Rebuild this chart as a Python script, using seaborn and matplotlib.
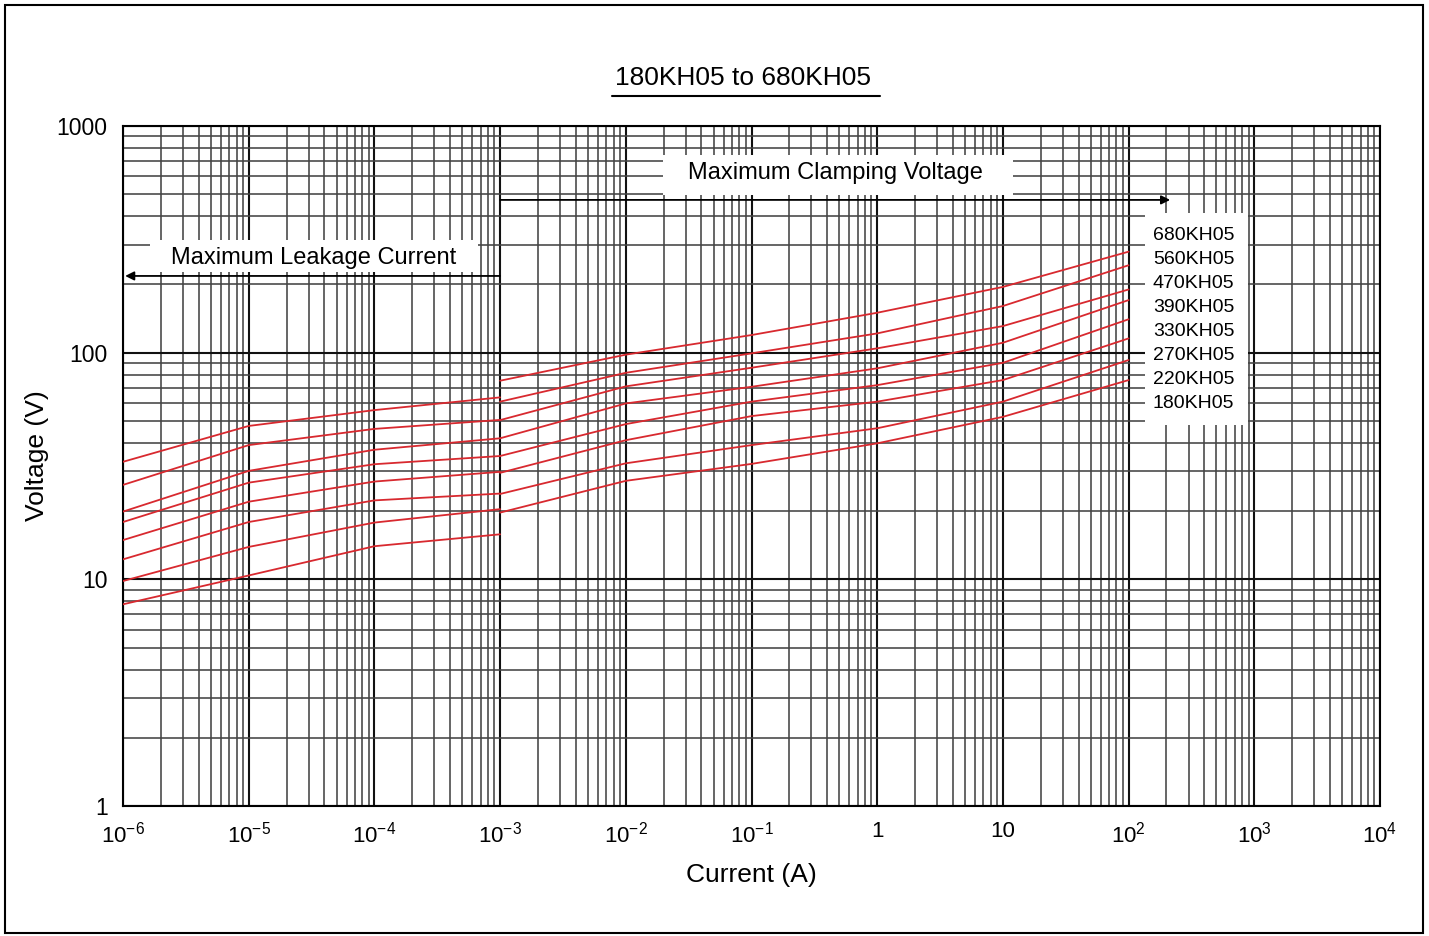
import numpy as np
import pandas as pd
import matplotlib
matplotlib.use("Agg")
import matplotlib.pyplot as plt
import seaborn as sns
from matplotlib.ticker import LogLocator, NullFormatter, FixedLocator, FixedFormatter
from matplotlib.patches import Rectangle
from matplotlib.lines import Line2D

# ---------------- data ----------------
devices = ["680KH05", "560KH05", "470KH05", "390KH05",
           "330KH05", "270KH05", "220KH05", "180KH05"]

leak_current = [1e-6, 1e-5, 1e-4, 1e-3]
clamp_current = [1e-3, 1e-2, 1e-1, 1, 10, 100]

leak_680 = [33.0, 47.5, 55.8, 63.5]
leak_560 = [26.1, 39.1, 46.1, 50.5]
leak_470 = [19.9, 30.1, 37.3, 41.9]
leak_390 = [17.9, 26.7, 32.2, 35.0]
leak_330 = [14.9, 22.0, 27.0, 29.8]
leak_270 = [12.25, 17.9, 22.3, 23.9]
leak_220 = [9.83, 13.9, 17.8, 20.4]
leak_180 = [7.76, 10.4, 14.0, 15.8]

clamp_680 = [75.2, 98.0, 119.6, 150.0, 195.0, 279.0]
clamp_560 = [60.8, 81.5, 99.3, 121.6, 160.6, 243.0]
clamp_470 = [50.4, 71.0, 85.8, 104.5, 131.0, 190.0]
clamp_390 = [41.9, 59.7, 70.7, 85.3, 110.6, 170.6]
clamp_330 = [35.0, 48.4, 60.8, 71.9, 90.2, 140.4]
clamp_270 = [29.5, 41.1, 52.5, 60.8, 75.7, 115.6]
clamp_220 = [23.8, 32.5, 39.1, 46.4, 60.8, 92.8]
clamp_180 = [19.7, 27.2, 32.3, 39.8, 52.1, 75.7]

leak_values = [leak_680, leak_560, leak_470, leak_390,
               leak_330, leak_270, leak_220, leak_180]
clamp_values = [clamp_680, clamp_560, clamp_470, clamp_390,
                clamp_330, clamp_270, clamp_220, clamp_180]

x_tick_values = [1e-6, 1e-5, 1e-4, 1e-3, 1e-2, 1e-1, 1, 10, 1e2, 1e3, 1e4]
x_tick_labels = [r"$\mathregular{10^{-6}}$", r"$\mathregular{10^{-5}}$",
                 r"$\mathregular{10^{-4}}$", r"$\mathregular{10^{-3}}$",
                 r"$\mathregular{10^{-2}}$", r"$\mathregular{10^{-1}}$",
                 "1", "10", r"$\mathregular{10^{2}}$", r"$\mathregular{10^{3}}$",
                 r"$\mathregular{10^{4}}$"]
y_tick_values = [1, 10, 100, 1000]
y_tick_labels = ["1", "10", "100", "1000"]

title_text = "180KH05 to 680KH05"
clamp_text = "Maximum Clamping Voltage"
leak_text = "Maximum Leakage Current"

# arrow extents (data coordinates)
clamp_arrow = ((1e-3, 472), (214, 472))
leak_arrow = ((1e-3, 218), (1.04e-6, 218))

# ---------------- table ----------------
rows = []
for dev, lv, cv in zip(devices, leak_values, clamp_values):
    for i, v in zip(leak_current, lv):
        rows.append((dev, "leakage", i, v))
    for i, v in zip(clamp_current, cv):
        rows.append((dev, "clamping", i, v))
df = pd.DataFrame(rows, columns=["device", "region", "current", "voltage"])

# ---------------- style ----------------
sns.set_style("white")
plt.rcParams["font.family"] = ["Liberation Sans", "DejaVu Sans"]
plt.rcParams["mathtext.fontset"] = "custom"
plt.rcParams["mathtext.rm"] = "Liberation Sans"
plt.rcParams["mathtext.it"] = "Liberation Sans:italic"
plt.rcParams["mathtext.bf"] = "Liberation Sans:bold"
plt.rcParams["text.color"] = "black"
plt.rcParams["axes.labelcolor"] = "black"
plt.rcParams["xtick.color"] = "black"
plt.rcParams["ytick.color"] = "black"
plt.rcParams["xtick.labelcolor"] = "black"
plt.rcParams["ytick.labelcolor"] = "black"

RED = "#d8292f"

fig = plt.figure(figsize=(14.29, 9.36), dpi=100)
ax = fig.add_axes([123 / 1429, 1 - 806 / 936, 1257 / 1429, 680 / 936])
ax.set_xscale("log")
ax.set_yscale("log")

sns.lineplot(data=df, x="current", y="voltage", hue="device", units="region",
             estimator=None, sort=False, legend=False,
             palette={d: RED for d in devices}, linewidth=1.3, ax=ax, zorder=3)

ax.set_xlim(1e-6, 1e4)
ax.set_ylim(1, 1000)

ax.xaxis.set_major_locator(FixedLocator(x_tick_values))
ax.xaxis.set_major_formatter(FixedFormatter(x_tick_labels))
ax.yaxis.set_major_locator(FixedLocator(y_tick_values))
ax.yaxis.set_major_formatter(FixedFormatter(y_tick_labels))
ax.xaxis.set_minor_locator(LogLocator(base=10, subs=np.arange(2, 10), numticks=200))
ax.yaxis.set_minor_locator(LogLocator(base=10, subs=np.arange(2, 10), numticks=200))
ax.xaxis.set_minor_formatter(NullFormatter())
ax.yaxis.set_minor_formatter(NullFormatter())

ax.set_axisbelow(True)
ax.grid(True, which="major", color="#111111", linewidth=1.5)
ax.grid(True, which="minor", color="#444444", linewidth=1.15)
ax.tick_params(which="both", length=0)
ax.tick_params(axis="x", pad=11, labelsize=16, labelcolor="black")
ax.tick_params(axis="y", pad=11, labelsize=16.5, labelcolor="black")
for s in ax.spines.values():
    s.set_color("black")
    s.set_linewidth(1.5)

ax.set_xlabel("Current (A)", fontsize=19, color="black")
ax.xaxis.label.set_verticalalignment("center")
ax.xaxis.set_label_coords(0.5, -0.1015)
ax.set_ylabel("Voltage (V)", fontsize=19, color="black")
ax.yaxis.label.set_verticalalignment("center")
ax.yaxis.set_label_coords(-0.0684, 0.515)

# white label boxes
ax.add_patch(Rectangle((0.4296, 0.8985), 0.2784, 0.0589, transform=ax.transAxes,
                       facecolor="white", edgecolor="none", zorder=1.5))
ax.text(0.5664, 0.9309, clamp_text, transform=ax.transAxes, ha="center",
        va="center", fontsize=17, color="black", zorder=4)

ax.add_patch(Rectangle((0.0215, 0.7853), 0.2609, 0.0471, transform=ax.transAxes,
                       facecolor="white", edgecolor="none", zorder=1.5))
ax.text(0.1519, 0.8060, leak_text, transform=ax.transAxes, ha="center",
        va="center", fontsize=17, color="black", zorder=4)

ax.add_patch(Rectangle((0.8130, 0.5603), 0.0820, 0.3118, transform=ax.transAxes,
                       facecolor="white", edgecolor="none", zorder=1.5))
for k, dev in enumerate(devices):
    ypx = 235 + 24 * k
    ax.text(0.8194, (806 - ypx) / 680, dev, transform=ax.transAxes, ha="left",
            va="center", fontsize=14, color="black", zorder=4)

# arrows
for start, end in (clamp_arrow, leak_arrow):
    ax.annotate("", xy=end, xytext=start,
                arrowprops=dict(arrowstyle="-|>", color="black", lw=1.3,
                                mutation_scale=13, shrinkA=0, shrinkB=0),
                zorder=4)

# title with underline
fig.text(743 / 1429, 1 - 78 / 936, title_text, ha="center", va="center",
         fontsize=19, color="black")
fig.add_artist(Line2D([612 / 1429, 880 / 1429], [1 - 96 / 936, 1 - 96 / 936],
                      color="black", linewidth=1.5))

# outer frame
fig.add_artist(Rectangle((5 / 1429, 3 / 936), 1418 / 1429, 928 / 936,
                         transform=fig.transFigure, fill=False,
                         edgecolor="black", linewidth=1.5))

fig.savefig("out.png", dpi=100)
